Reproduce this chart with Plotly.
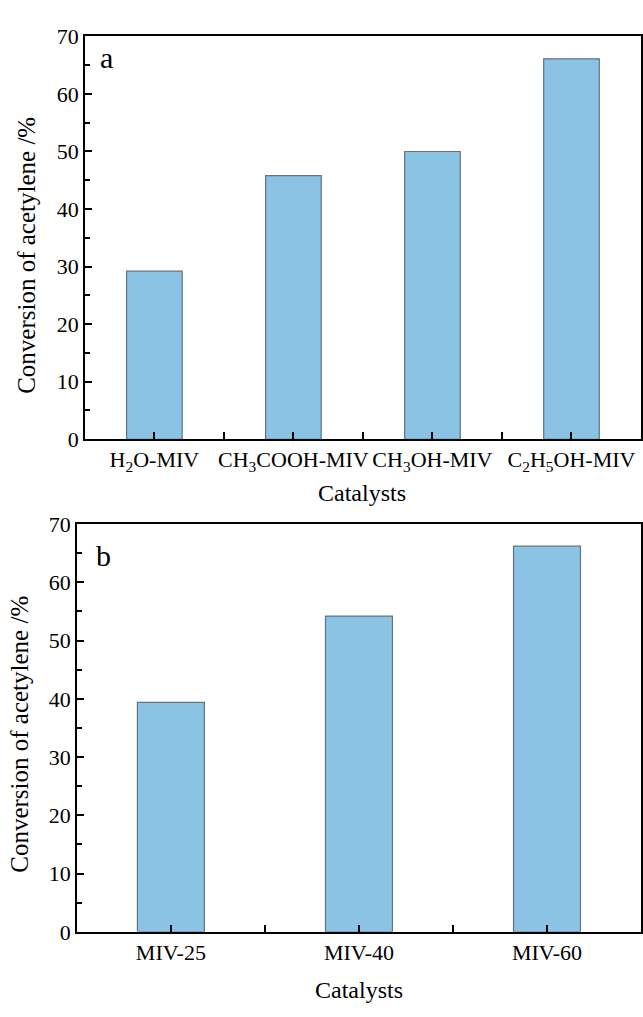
import plotly.graph_objects as go

# Conversion of acetylene for catalysts prepared with different solvents (a)
solvent_labels = ["H<sub>2</sub>O-MIV", "CH<sub>3</sub>COOH-MIV", "CH<sub>3</sub>OH-MIV", "C<sub>2</sub>H<sub>5</sub>OH-MIV"]
solvent_conversion = [29.2, 45.8, 50.0, 66.1]

# Conversion of acetylene for catalysts prepared at different temperatures (b)
temp_labels = ["MIV-25", "MIV-40", "MIV-60"]
temp_conversion = [39.4, 54.2, 66.2]

y_ticks = [0, 10, 20, 30, 40, 50, 60, 70]

W, H = 643, 1017
FONT = "Liberation Serif"
BAR_FILL = "#8bc3e5"
BAR_LINE = "#5f7383"


def py(pix):
    return 1 - pix / H


def px(pix):
    return pix / W


fig = go.Figure()

fig.add_trace(go.Bar(
    x=list(range(len(solvent_labels))), y=solvent_conversion, width=0.40,
    marker=dict(color=BAR_FILL, line=dict(color=BAR_LINE, width=1.2)),
    xaxis="x", yaxis="y", showlegend=False,
))
fig.add_trace(go.Bar(
    x=list(range(len(temp_labels))), y=temp_conversion, width=0.356,
    marker=dict(color=BAR_FILL, line=dict(color=BAR_LINE, width=1.2)),
    xaxis="x2", yaxis="y2", showlegend=False,
))

axis_common = dict(
    showline=True, linecolor="black", linewidth=1.5, mirror=True,
    ticks="inside", tickcolor="black", tickwidth=1.5, ticklen=7,
    showgrid=False, zeroline=False,
    tickfont=dict(family=FONT, size=22, color="black"),
)

fig.update_layout(
    width=W, height=H,
    margin=dict(l=0, r=0, t=0, b=0),
    paper_bgcolor="white", plot_bgcolor="white",
    xaxis=dict(
        domain=[px(85), px(642)], anchor="y",
        range=[-0.5, len(solvent_labels) - 0.5],
        tickmode="array", tickvals=list(range(len(solvent_labels))), ticktext=solvent_labels,
        minor=dict(tickmode="array", tickvals=[0.5, 1.5, 2.5], ticks="inside", ticklen=7,
                   tickcolor="black", tickwidth=1.5),
        **axis_common,
    ),
    yaxis=dict(
        domain=[py(438), py(25)], anchor="x",
        range=[0, 70], tickmode="array", tickvals=y_ticks,
        minor=dict(dtick=5, tick0=0, ticks="inside", ticklen=5, tickcolor="black", tickwidth=1.5),
        **axis_common,
    ),
    xaxis2=dict(
        domain=[px(77), px(642)], anchor="y2",
        range=[-0.5, len(temp_labels) - 0.5],
        tickmode="array", tickvals=list(range(len(temp_labels))), ticktext=temp_labels,
        minor=dict(tickmode="array", tickvals=[0.5, 1.5], ticks="inside", ticklen=7,
                   tickcolor="black", tickwidth=1.5),
        **axis_common,
    ),
    yaxis2=dict(
        domain=[py(943), py(525)], anchor="x2",
        range=[0, 70], tickmode="array", tickvals=y_ticks,
        minor=dict(dtick=5, tick0=0, ticks="inside", ticklen=5, tickcolor="black", tickwidth=1.5),
        **axis_common,
    ),
)

title_font = dict(family=FONT, size=24, color="black")
annotations = [
    dict(text="Catalysts", x=px(363), y=py(493), xref="paper", yref="paper",
         showarrow=False, font=title_font, xanchor="center", yanchor="middle"),
    dict(text="Catalysts", x=px(360), y=py(1003), xref="paper", yref="paper",
         showarrow=False, font=title_font, xanchor="center", yanchor="middle"),
    dict(text="Conversion of acetylene /%", x=px(27), y=py(249), xref="paper", yref="paper",
         showarrow=False, font=dict(family=FONT, size=25, color="black"), textangle=-90,
         xanchor="center", yanchor="middle"),
    dict(text="Conversion of acetylene /%", x=px(20), y=py(740), xref="paper", yref="paper",
         showarrow=False, font=dict(family=FONT, size=25, color="black"), textangle=-90,
         xanchor="center", yanchor="middle"),
    dict(text="a", x=px(98), y=py(47), xref="paper", yref="paper",
         showarrow=False, font=dict(family=FONT, size=30, color="black"),
         xanchor="left", yanchor="middle"),
    dict(text="b", x=px(94), y=py(557), xref="paper", yref="paper",
         showarrow=False, font=dict(family=FONT, size=30, color="black"),
         xanchor="left", yanchor="middle"),
]
fig.update_layout(annotations=annotations)

fig.write_html("out.html")
